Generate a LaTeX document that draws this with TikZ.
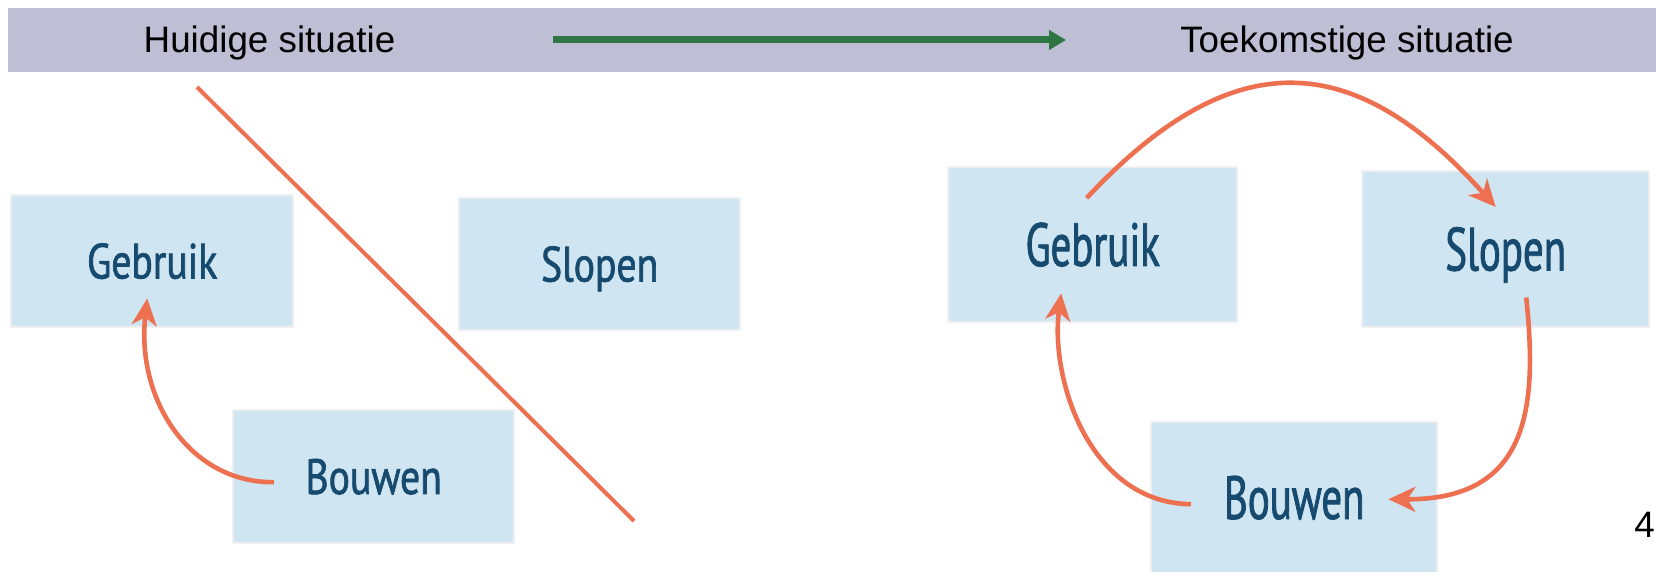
\documentclass[tikz,border=0pt]{standalone}
\usepackage{fontspec}
\setmainfont{Liberation Sans}
\newfontfamily\boxfontL[FakeStretch=0.80,FakeBold=1.3]{PT Sans}
\newfontfamily\boxfontR[FakeStretch=0.67,FakeBold=1.3]{PT Sans}
\usetikzlibrary{arrows.meta,calc}

\definecolor{barcol}{RGB}{190,191,212}
\definecolor{flowgreen}{RGB}{47,118,68}
\definecolor{boxblue}{RGB}{207,229,241}
\definecolor{boxtext}{RGB}{22,74,110}
\definecolor{cycleorange}{RGB}{237,112,80}
\definecolor{boxframe}{RGB}{238,240,242}

\tikzset{
  headtext/.style={font=\fontsize{18.4pt}{20pt}\selectfont, text=black, inner sep=0pt, anchor=base},
  phase/.style={fill=boxblue, draw=boxframe, line width=1.2pt, inner sep=0pt,
    anchor=north west, text=boxtext},
  phaseL/.style={phase, font=\boxfontL\fontsize{24.8pt}{26pt}\selectfont,
    text height=17.3pt, text depth=0pt},
  phaseR/.style={phase, font=\boxfontR\fontsize{30.5pt}{32pt}\selectfont,
    text height=21.3pt, text depth=0pt},
  cyclearrow/.style={draw=cycleorange, line width=2.3pt,
    -{Stealth[length=13.5pt,width=12.5pt,inset=4pt]}},
  crossout/.style={draw=cycleorange, line width=2pt},
  timeline/.style={draw=flowgreen, line width=3.5pt,
    -{Triangle[length=8.5pt,width=9.5pt]}}
}

\begin{document}
\begin{tikzpicture}[x=0.5pt, y=-0.5pt]
  \useasboundingbox (0,0) rectangle (1656,572);

  % header band
  \fill[barcol] (8,8) rectangle (1656,72);
  \node[headtext] (now) at (269.5,53) {Huidige situatie};
  \node[headtext] (future) at (1347,53) {Toekomstige situatie};
  \coordinate (tlA) at (553,40);
  \coordinate (tlB) at (1066,40);
  \draw[timeline] (tlA) -- (tlB);

  % current situation: linear chain
  \node[phaseL, minimum width=141pt, minimum height=66pt] (lgeb) at (10,194) {Gebruik};
  \node[phaseL, minimum width=140.5pt, minimum height=66pt] (lslo) at (458,197) {Slopen};
  \node[phaseL, minimum width=140.5pt, minimum height=66.5pt] (lbou) at (232,409) {Bouwen};

  \draw[cyclearrow] ($(lbou.west)+(42,5.5)$)
     .. controls (190,483) and (136,400) .. ($(lgeb.south)+(-5,-30)$);

  \coordinate (cutA) at (197,87);
  \coordinate (cutB) at (634,521);
  \draw[crossout] (cutA) -- (cutB);

  % future situation: closed cycle
  \node[phaseR, minimum width=144.5pt, minimum height=77.5pt] (rgeb) at (947,166) {Gebruik};
  \node[phaseR, minimum width=143.5pt, minimum height=78pt] (rslo) at (1361,170) {Slopen};
  \node[phaseR, minimum width=143pt, minimum height=75.5pt] (rbou) at (1150,421) {Bouwen};

  \draw[cyclearrow] ($(rgeb.north)+(-6,32)$)
     .. controls (1230,45) and (1351,45) .. ($(rslo.north)+(-10,37)$);
  \draw[cyclearrow] ($(rslo.south)+(20.5,-31)$)
     .. controls (1538,410) and (1528,500) .. ($(rbou.east)+(-50,1.5)$);
  \draw[cyclearrow] ($(rbou.west)+(41,6.5)$)
     .. controls (1090,503) and (1050,380) .. ($(rgeb.south)+(-31.5,-30)$);

  % page number at the edge
  \node[headtext, anchor=base west] (pageno) at (1634,537) {4};
\end{tikzpicture}
\end{document}
